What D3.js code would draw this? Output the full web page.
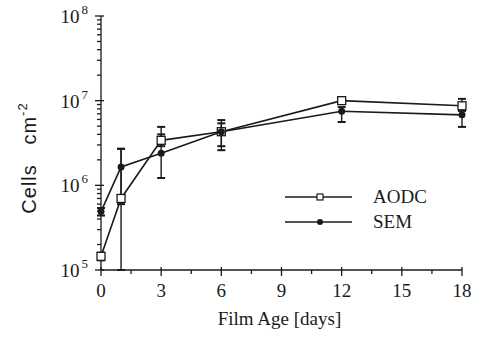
<!DOCTYPE html>
<html>
<head>
<meta charset="utf-8">
<script src="https://cdn.jsdelivr.net/npm/d3@7"></script>
<style>
  html, body { margin: 0; padding: 0; background: #fff; }
  svg { display: block; }
</style>
</head>
<body>
<div id="chart"></div>
<script>
// dados
const days = [0, 1, 3, 6, 12, 18];
const aodc = [1.45e5, 7.0e5, 3.4e6, 4.3e6, 1.0e7, 8.7e6];
const aodcLo = [1.3e5, 1.0e5, 2.9e6, 2.9e6, 9.2e6, 7.6e6];
const aodcHi = [1.6e5, 2.7e6, 4.9e6, 5.9e6, 1.1e7, 1.05e7];
const sem = [4.9e5, 1.65e6, 2.4e6, 4.3e6, 7.5e6, 6.8e6];
const semLo = [4.4e5, 6.0e5, 1.22e6, 2.6e6, 5.6e6, 4.9e6];
const semHi = [5.4e5, 2.7e6, 4.0e6, 5.4e6, 8.4e6, 7.6e6];
const xTicks = [0, 3, 6, 9, 12, 15, 18];
const xMinor = [1.5, 4.5, 7.5, 10.5, 13.5, 16.5];
const yMajor = [1e5, 1e6, 1e7, 1e8];
const yExp = ['5', '6', '7', '8'];

const W = 487, H = 338;
const margin = { top: 16, right: 25, bottom: 68, left: 101 };
const innerW = W - margin.left - margin.right;
const innerH = H - margin.top - margin.bottom;
const font = '"Liberation Serif", "DejaVu Serif", serif';
const ink = '#1a1a1a';

const svg = d3.select('#chart').append('svg')
  .attr('width', W).attr('height', H);
const g = svg.append('g').attr('transform', `translate(${margin.left},${margin.top})`);

const x = d3.scaleLinear().domain([0, 18]).range([0, innerW]);
const y = d3.scaleLog().domain([1e5, 1e8]).range([innerH, 0]);

// eixo y: ticks menores à esquerda
const yMinor = [];
for (let e = 5; e < 8; e++) for (let m = 2; m <= 9; m++) yMinor.push(m * Math.pow(10, e));

const yAx = g.append('g').attr('stroke', ink).attr('stroke-width', 1.3);
yAx.append('line').attr('x1', 0).attr('x2', 0).attr('y1', y(1e8)).attr('y2', y(1e5));
yAx.selectAll('.mn').data(yMinor).join('line')
  .attr('x1', -4).attr('x2', 0).attr('y1', d => y(d)).attr('y2', d => y(d));
yAx.selectAll('.mj').data(yMajor).join('line')
  .attr('x1', -6).attr('x2', 3).attr('y1', d => y(d)).attr('y2', d => y(d));

const yl = g.append('g').attr('font-family', font).attr('fill', ink);
yMajor.forEach((v, i) => {
  const t = yl.append('text').attr('x', -13).attr('y', y(v) + 7)
    .attr('text-anchor', 'end').style('font-size', '19px');
  t.append('tspan').text('10');
  t.append('tspan').attr('dy', -9).attr('dx', 2).style('font-size', '13px').text(yExp[i]);
});

// eixo x
const xAx = g.append('g').attr('stroke', ink).attr('stroke-width', 1.3);
xAx.append('line').attr('x1', 0).attr('x2', innerW).attr('y1', innerH).attr('y2', innerH);
xAx.selectAll('.mj').data(xTicks).join('line')
  .attr('x1', d => x(d)).attr('x2', d => x(d)).attr('y1', innerH - 3).attr('y2', innerH + 6);
xAx.selectAll('.mn').data(xMinor).join('line')
  .attr('x1', d => x(d)).attr('x2', d => x(d)).attr('y1', innerH).attr('y2', innerH + 4);

g.append('g').selectAll('text').data(xTicks).join('text')
  .attr('x', d => x(d)).attr('y', innerH + 27)
  .attr('text-anchor', 'middle').attr('font-family', font).attr('fill', ink)
  .style('font-size', '19px').text(d => d);

g.append('text').attr('x', innerW / 2 - 2).attr('y', innerH + 55)
  .attr('text-anchor', 'middle').attr('font-family', font).attr('fill', ink)
  .style('font-size', '19px').text('Film Age [days]');

const yt = svg.append('text')
  .attr('transform', `translate(36,${158}) rotate(-90)`)
  .attr('text-anchor', 'middle').attr('font-family', '"Liberation Sans", Arial, sans-serif')
  .attr('fill', ink).style('font-size', '20px').style('letter-spacing', '1px');
yt.append('tspan').text('Cells\u00a0\u00a0\u00a0cm');
yt.append('tspan').attr('dy', -9).style('font-size', '13px').text('-2');

// barras de erro
function errBars(lo, hi) {
  const eg = g.append('g').attr('stroke', ink).attr('stroke-width', 1.4);
  days.forEach((d, i) => {
    eg.append('line').attr('x1', x(d)).attr('x2', x(d)).attr('y1', y(lo[i])).attr('y2', y(hi[i]));
    [lo[i], hi[i]].forEach(v => eg.append('line')
      .attr('x1', x(d) - 4).attr('x2', x(d) + 4).attr('y1', y(v)).attr('y2', y(v)).attr('stroke-width', 2));
  });
}
errBars(aodcLo, aodcHi);
errBars(semLo, semHi);

const line = d3.line().x((d, i) => x(days[i])).y(d => y(d));
g.append('path').datum(aodc).attr('d', line).attr('fill', 'none').attr('stroke', ink).attr('stroke-width', 1.6);
g.append('path').datum(sem).attr('d', line).attr('fill', 'none').attr('stroke', ink).attr('stroke-width', 1.6);

g.selectAll('.sq').data(aodc).join('rect')
  .attr('x', (d, i) => x(days[i]) - 4).attr('y', d => y(d) - 4)
  .attr('width', 8).attr('height', 8)
  .attr('fill', '#fff').attr('stroke', ink).attr('stroke-width', 1.3);
g.selectAll('.dt').data(sem).join('circle')
  .attr('cx', (d, i) => x(days[i])).attr('cy', d => y(d)).attr('r', 3.5).attr('fill', ink);

// legenda
const leg = svg.append('g').attr('font-family', font).attr('fill', ink);
[['AODC', 197], ['SEM', 222]].forEach(([name, ly], i) => {
  leg.append('line').attr('x1', 285).attr('x2', 352).attr('y1', ly).attr('y2', ly)
    .attr('stroke', ink).attr('stroke-width', 1.3);
  if (i === 0) {
    leg.append('rect').attr('x', 317).attr('y', ly - 3).attr('width', 6).attr('height', 6)
      .attr('fill', '#fff').attr('stroke', ink).attr('stroke-width', 1.2);
  } else {
    leg.append('circle').attr('cx', 320).attr('cy', ly).attr('r', 3).attr('fill', ink);
  }
  leg.append('text').attr('x', 373).attr('y', ly + 6).style('font-size', '19px').text(name);
});
</script>
</body>
</html>
